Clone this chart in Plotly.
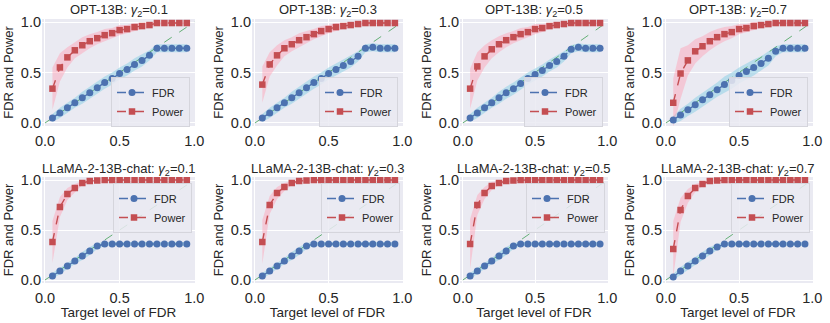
import plotly.graph_objects as go

# уровни FDR по оси X
x_levels = [0.05, 0.10, 0.15, 0.20, 0.25, 0.30, 0.35, 0.40, 0.45, 0.50,
            0.55, 0.60, 0.65, 0.70, 0.75, 0.80, 0.85, 0.90, 0.95]
diag = [0.0, 1.0]

gammas = ["0.1", "0.3", "0.5", "0.7"]

# OPT-13B
opt_fdr = [
    [0.05, 0.10, 0.15, 0.20, 0.25, 0.30, 0.35, 0.40, 0.44, 0.49, 0.53, 0.58, 0.62, 0.67, 0.74, 0.74, 0.74, 0.74, 0.74],
    [0.05, 0.10, 0.15, 0.20, 0.25, 0.30, 0.35, 0.40, 0.44, 0.49, 0.53, 0.57, 0.61, 0.66, 0.74, 0.75, 0.74, 0.74, 0.74],
    [0.05, 0.10, 0.15, 0.20, 0.25, 0.30, 0.34, 0.39, 0.44, 0.48, 0.52, 0.57, 0.61, 0.66, 0.73, 0.75, 0.74, 0.74, 0.74],
    [0.03, 0.08, 0.13, 0.18, 0.23, 0.28, 0.33, 0.38, 0.42, 0.47, 0.51, 0.55, 0.59, 0.64, 0.71, 0.74, 0.74, 0.74, 0.74],
]
opt_fdr_err = [
    [0.04, 0.05, 0.05, 0.05, 0.06, 0.06, 0.06, 0.06, 0.06, 0.06, 0.06, 0.06, 0.06, 0.05, 0.04, 0.04, 0.04, 0.04, 0.04],
    [0.04, 0.05, 0.05, 0.05, 0.06, 0.06, 0.06, 0.06, 0.06, 0.06, 0.06, 0.06, 0.06, 0.05, 0.04, 0.04, 0.04, 0.04, 0.04],
    [0.04, 0.05, 0.05, 0.05, 0.06, 0.06, 0.06, 0.06, 0.06, 0.06, 0.06, 0.06, 0.06, 0.05, 0.04, 0.04, 0.04, 0.04, 0.04],
    [0.04, 0.06, 0.06, 0.07, 0.07, 0.07, 0.07, 0.08, 0.08, 0.08, 0.08, 0.08, 0.07, 0.07, 0.05, 0.04, 0.04, 0.04, 0.04],
]
opt_power = [
    [0.34, 0.55, 0.65, 0.72, 0.77, 0.81, 0.84, 0.87, 0.89, 0.92, 0.93, 0.95, 0.96, 0.97, 0.99, 0.99, 0.99, 0.99, 0.99],
    [0.38, 0.58, 0.67, 0.74, 0.78, 0.82, 0.85, 0.88, 0.91, 0.93, 0.95, 0.96, 0.97, 0.98, 0.99, 0.99, 0.99, 0.99, 0.99],
    [0.34, 0.56, 0.66, 0.73, 0.78, 0.82, 0.85, 0.88, 0.90, 0.93, 0.94, 0.96, 0.97, 0.98, 0.99, 0.99, 0.99, 0.99, 0.99],
    [0.20, 0.49, 0.62, 0.71, 0.76, 0.81, 0.85, 0.88, 0.90, 0.93, 0.94, 0.96, 0.97, 0.98, 0.99, 0.99, 0.99, 0.99, 0.99],
]
opt_power_err = [
    [0.21, 0.14, 0.10, 0.08, 0.08, 0.07, 0.06, 0.06, 0.05, 0.05, 0.04, 0.04, 0.03, 0.03, 0.02, 0.01, 0.01, 0.01, 0.01],
    [0.18, 0.12, 0.10, 0.08, 0.07, 0.07, 0.06, 0.05, 0.05, 0.04, 0.04, 0.03, 0.03, 0.02, 0.02, 0.01, 0.01, 0.01, 0.01],
    [0.20, 0.14, 0.11, 0.09, 0.08, 0.07, 0.06, 0.06, 0.05, 0.05, 0.04, 0.03, 0.03, 0.02, 0.02, 0.01, 0.01, 0.01, 0.01],
    [0.24, 0.25, 0.15, 0.12, 0.10, 0.09, 0.08, 0.07, 0.06, 0.05, 0.04, 0.04, 0.03, 0.03, 0.02, 0.01, 0.01, 0.01, 0.01],
]

# LLaMA-2-13B-chat
llama_fdr = [
    [0.04, 0.09, 0.14, 0.19, 0.24, 0.29, 0.34, 0.36, 0.36, 0.36, 0.36, 0.36, 0.36, 0.36, 0.36, 0.36, 0.36, 0.36, 0.36],
    [0.04, 0.09, 0.14, 0.19, 0.24, 0.29, 0.34, 0.36, 0.36, 0.36, 0.36, 0.36, 0.36, 0.36, 0.36, 0.36, 0.36, 0.36, 0.36],
    [0.04, 0.09, 0.14, 0.19, 0.24, 0.29, 0.34, 0.36, 0.36, 0.36, 0.36, 0.36, 0.36, 0.36, 0.36, 0.36, 0.36, 0.36, 0.36],
    [0.03, 0.09, 0.14, 0.19, 0.24, 0.29, 0.33, 0.36, 0.36, 0.36, 0.36, 0.36, 0.36, 0.36, 0.36, 0.36, 0.36, 0.36, 0.36],
]
llama_fdr_err = [
    [0.03, 0.03, 0.03, 0.03, 0.04, 0.04, 0.03, 0.02, 0.02, 0.02, 0.02, 0.02, 0.02, 0.02, 0.02, 0.02, 0.02, 0.02, 0.02],
    [0.03, 0.03, 0.03, 0.03, 0.04, 0.04, 0.03, 0.02, 0.02, 0.02, 0.02, 0.02, 0.02, 0.02, 0.02, 0.02, 0.02, 0.02, 0.02],
    [0.03, 0.03, 0.03, 0.03, 0.04, 0.04, 0.03, 0.02, 0.02, 0.02, 0.02, 0.02, 0.02, 0.02, 0.02, 0.02, 0.02, 0.02, 0.02],
    [0.03, 0.04, 0.04, 0.04, 0.04, 0.04, 0.03, 0.02, 0.02, 0.02, 0.02, 0.02, 0.02, 0.02, 0.02, 0.02, 0.02, 0.02, 0.02],
]
llama_power = [
    [0.38, 0.73, 0.86, 0.92, 0.97, 0.99, 0.995, 1.0, 1.0, 1.0, 1.0, 1.0, 1.0, 1.0, 1.0, 1.0, 1.0, 1.0, 1.0],
    [0.38, 0.75, 0.87, 0.93, 0.97, 0.99, 0.995, 1.0, 1.0, 1.0, 1.0, 1.0, 1.0, 1.0, 1.0, 1.0, 1.0, 1.0, 1.0],
    [0.36, 0.75, 0.87, 0.94, 0.97, 0.99, 0.995, 1.0, 1.0, 1.0, 1.0, 1.0, 1.0, 1.0, 1.0, 1.0, 1.0, 1.0, 1.0],
    [0.31, 0.70, 0.84, 0.92, 0.96, 0.99, 0.995, 1.0, 1.0, 1.0, 1.0, 1.0, 1.0, 1.0, 1.0, 1.0, 1.0, 1.0, 1.0],
]
llama_power_err = [
    [0.21, 0.10, 0.06, 0.04, 0.02, 0.01, 0.01, 0.0, 0.0, 0.0, 0.0, 0.0, 0.0, 0.0, 0.0, 0.0, 0.0, 0.0, 0.0],
    [0.22, 0.09, 0.06, 0.04, 0.02, 0.01, 0.01, 0.0, 0.0, 0.0, 0.0, 0.0, 0.0, 0.0, 0.0, 0.0, 0.0, 0.0, 0.0],
    [0.25, 0.10, 0.06, 0.04, 0.02, 0.01, 0.01, 0.0, 0.0, 0.0, 0.0, 0.0, 0.0, 0.0, 0.0, 0.0, 0.0, 0.0, 0.0],
    [0.28, 0.12, 0.07, 0.04, 0.02, 0.01, 0.01, 0.0, 0.0, 0.0, 0.0, 0.0, 0.0, 0.0, 0.0, 0.0, 0.0, 0.0, 0.0],
]

W, H = 830, 323
FONT = "Liberation Sans, Arial, sans-serif"
TXT = "#262626"
BLUE = "#4C72B0"
RED = "#C44E52"

# положение осей в пикселях
col_px = [(42, 195), (252, 403), (460, 608), (663, 813)]
row_px = [(19, 126), (177, 283)]
title_mid = [11, 169]

rows = [
    ("OPT-13B", opt_fdr, opt_fdr_err, opt_power, opt_power_err),
    ("LLaMA-2-13B-chat", llama_fdr, llama_fdr_err, llama_power, llama_power_err),
]

fig = go.Figure()
annotations = []
layout = {}

for r, (model, fdr_all, fdr_err_all, pow_all, pow_err_all) in enumerate(rows):
    for c in range(4):
        k = r * 4 + c + 1
        xa = "x" if k == 1 else f"x{k}"
        ya = "y" if k == 1 else f"y{k}"
        lg = "legend" if k == 1 else f"legend{k}"
        fdr = fdr_all[c]
        fe = fdr_err_all[c]
        pw = pow_all[c]
        pe = pow_err_all[c]

        fdr_lo = [m - e for m, e in zip(fdr, fe)]
        fdr_hi = [m + e for m, e in zip(fdr, fe)]
        pow_lo = [m - e for m, e in zip(pw, pe)]
        pow_hi = [min(m + e, 1.0) for m, e in zip(pw, pe)]

        # полосы разброса
        fig.add_trace(go.Scatter(x=x_levels + x_levels[::-1], y=fdr_hi + fdr_lo[::-1],
                                 fill="toself", fillcolor="rgba(150,210,230,0.6)",
                                 line=dict(width=0), hoverinfo="skip", showlegend=False,
                                 xaxis=xa, yaxis=ya))
        fig.add_trace(go.Scatter(x=x_levels + x_levels[::-1], y=pow_hi + pow_lo[::-1],
                                 fill="toself", fillcolor="rgba(255,160,180,0.45)",
                                 line=dict(width=0), hoverinfo="skip", showlegend=False,
                                 xaxis=xa, yaxis=ya))
        # диагональ
        fig.add_trace(go.Scatter(x=diag, y=diag, mode="lines",
                                 line=dict(color="rgba(85,168,104,0.9)", width=1, dash="dash"),
                                 showlegend=False, xaxis=xa, yaxis=ya))
        fig.add_trace(go.Scatter(x=x_levels, y=fdr, mode="lines+markers", name="FDR",
                                 line=dict(color=BLUE, width=1.4, dash="dash"),
                                 marker=dict(symbol="circle", size=7, color=BLUE),
                                 xaxis=xa, yaxis=ya, legend=lg))
        fig.add_trace(go.Scatter(x=x_levels, y=pw, mode="lines+markers", name="Power",
                                 line=dict(color=RED, width=1.4, dash="dash"),
                                 marker=dict(symbol="square", size=6.5, color=RED),
                                 xaxis=xa, yaxis=ya, legend=lg))

        x0, x1 = col_px[c]
        y0, y1 = row_px[r]
        axis_common = dict(showgrid=True, gridcolor="white", gridwidth=1, zeroline=False,
                           showline=False, ticks="", automargin=False,
                           tickfont=dict(size=14.5, color=TXT, family=FONT))
        layout["xaxis" if k == 1 else f"xaxis{k}"] = dict(
            axis_common, domain=[x0 / W, x1 / W], anchor=ya, range=[-0.02, 1.005],
            tickvals=[0, 0.5, 1.0], ticktext=["0.0", "0.5", "1.0"], ticklabelstandoff=4,
            title=dict(text="Target level of FDR" if r == 1 else "",
                       font=dict(size=13.5, color=TXT, family=FONT), standoff=2))
        layout["yaxis" if k == 1 else f"yaxis{k}"] = dict(
            axis_common, domain=[1 - y1 / H, 1 - y0 / H], anchor=xa, range=[-0.03, 1.03],
            tickvals=[0, 0.5, 1.0], ticktext=["0.0", "0.5", "1.0"],
            title=dict(text="FDR and Power", font=dict(size=13, color=TXT, family=FONT), standoff=4))

        if r == 0:
            leg_pos = dict(x=(x1 - 5) / W, y=1 - (y1 + 1) / H, xanchor="right", yanchor="bottom")
        else:
            leg_pos = dict(x=(x1 - 3) / W, y=1 - (y0 + 6) / H, xanchor="right", yanchor="top")
        layout[lg] = dict(leg_pos, bgcolor="rgba(234,234,242,0.85)", bordercolor="#d5d5dc",
                          borderwidth=1, font=dict(size=11, color=TXT, family=FONT),
                          tracegroupgap=0, itemwidth=30)

        annotations.append(dict(
            text=f"{model}: <i>γ</i><sub>2</sub>=" + gammas[c],
            x=(x0 + x1) / 2 / W, y=1 - title_mid[r] / H, xref="paper", yref="paper",
            xanchor="center", yanchor="middle", showarrow=False,
            font=dict(size=13, color=TXT, family=FONT)))

fig.update_layout(
    width=W, height=H,
    margin=dict(l=0, r=0, t=0, b=0),
    paper_bgcolor="white",
    plot_bgcolor="#EAEAF2",
    font=dict(family=FONT, color=TXT),
    annotations=annotations,
    **layout,
)

# убрать отступ страницы, чтобы рисунок совпал с окном
fig.write_html("out.html", config={"displayModeBar": False},
               post_script="document.body.style.margin='0';")
